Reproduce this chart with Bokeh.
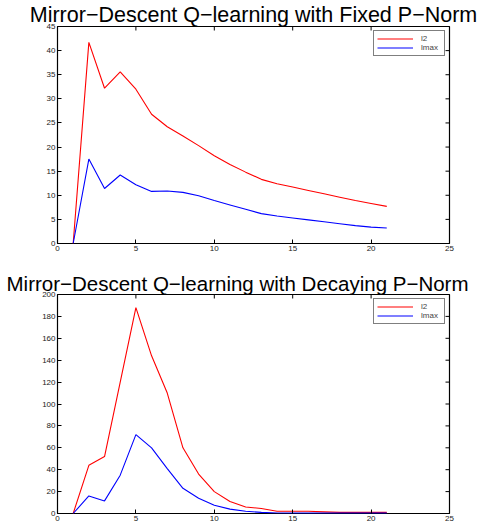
import math
from bokeh.plotting import figure
from bokeh.models import LinearAxis, FixedTicker, Range1d, Title, Legend, LegendItem
from bokeh.layouts import column
from bokeh.embed import file_html
from bokeh.resources import INLINE

episodes = list(range(1, 22))

fixed_l2 = [0, 41.7, 32.2, 35.6, 32.0, 26.8, 24.2, 22.3, 20.3, 18.2, 16.4,
            14.8, 13.3, 12.4, 11.7, 11.0, 10.3, 9.6, 8.9, 8.3, 7.7]
fixed_lmax = [0, 17.5, 11.4, 14.2, 12.2, 10.8, 10.9, 10.6, 9.9, 8.9, 8.0,
              7.1, 6.2, 5.7, 5.3, 4.9, 4.5, 4.1, 3.7, 3.4, 3.2]

decay_l2 = [0, 44, 52, 120, 188, 144, 110, 60, 36, 20, 11,
            6, 4.5, 2, 2, 2, 1.5, 1, 1, 1, 1]
decay_lmax = [0, 16, 11.5, 35, 72, 60, 41, 23, 14, 7.5, 4,
              2, 1, 0.5, 0.3, 0.3, 0.3, 0.3, 0.3, 0.3, 0.3]

x_ticks = [0, 5, 10, 15, 20, 25]
top_y_ticks = [0, 5, 10, 15, 20, 25, 30, 35, 40, 45]
bot_y_ticks = [0, 20, 40, 60, 80, 100, 120, 140, 160, 180, 200]

titles = ["Mirror\u2212Descent Q\u2212learning with Fixed P\u2212Norm",
          "Mirror\u2212Descent Q\u2212learning with Decaying P\u2212Norm"]
series_names = ["l2", "lmax"]

FONT = "Liberation Sans"
XMAX = 25


def make_plot(title, l2, lmax, yticks, ymax, height, borders, title_size, title_align, title_offset):
    top, left, right, bottom = borders
    p = figure(width=482, height=height, output_backend="svg", toolbar_location=None,
               x_range=Range1d(0, XMAX), y_range=Range1d(0, ymax),
               min_border_top=top, min_border_left=left, min_border_right=right,
               min_border_bottom=bottom, x_axis_location=None, y_axis_location=None)
    p.title = None
    p.add_layout(Title(text=title, align=title_align, text_font=FONT, text_font_size=title_size,
                       text_font_style="normal", text_color="black", standoff=0,
                       offset=title_offset), "above")
    p.grid.visible = False
    p.outline_line_color = "black"
    p.outline_line_width = 1.2
    p.background_fill_color = "white"
    p.border_fill_color = "white"

    for loc, ticks in [("below", x_ticks), ("left", yticks)]:
        ax = LinearAxis(ticker=FixedTicker(ticks=ticks))
        ax.major_tick_in = 4
        ax.major_tick_out = 0
        ax.minor_tick_in = 0
        ax.minor_tick_out = 0
        ax.axis_line_color = None
        ax.major_tick_line_color = "black"
        ax.major_label_text_font = FONT
        ax.major_label_text_color = "#222222"
        ax.major_label_text_font_size = "8px"
        ax.major_label_standoff = 2
        p.add_layout(ax, loc)

    # mirrored inward ticks on the top and right edges of the box
    p.ray(x=x_ticks, y=[ymax] * len(x_ticks), length=4, length_units="screen",
          angle=-math.pi / 2, line_color="black", line_width=1)
    p.ray(x=[XMAX] * len(yticks), y=yticks, length=4, length_units="screen",
          angle=math.pi, line_color="black", line_width=1)

    r1 = p.line(episodes, l2, line_color="#ff0000", line_width=1.1)
    r2 = p.line(episodes, lmax, line_color="#0000ff", line_width=1.1)
    leg = Legend(items=[LegendItem(label=series_names[0], renderers=[r1]),
                        LegendItem(label=series_names[1], renderers=[r2])],
                 location="top_right", margin=4, padding=3, spacing=0,
                 glyph_width=36, glyph_height=9, label_height=9, label_standoff=8,
                 label_text_font=FONT, label_text_font_size="8px",
                 border_line_color="black", border_line_width=1.2,
                 background_fill_alpha=1.0)
    p.add_layout(leg, "center")
    return p


p1 = make_plot(titles[0], fixed_l2, fixed_lmax, top_y_ticks, 45, 255, (26, 49, 29, 12),
               "21.5px", "center", 0)
p2 = make_plot(titles[1], decay_l2, decay_lmax, bot_y_ticks, 200, 269, (39, 57, 33, 11),
               "20.5px", "left", -51)

layout = column(p1, p2, spacing=0)
open("out.html", "w").write(file_html(layout, INLINE))
